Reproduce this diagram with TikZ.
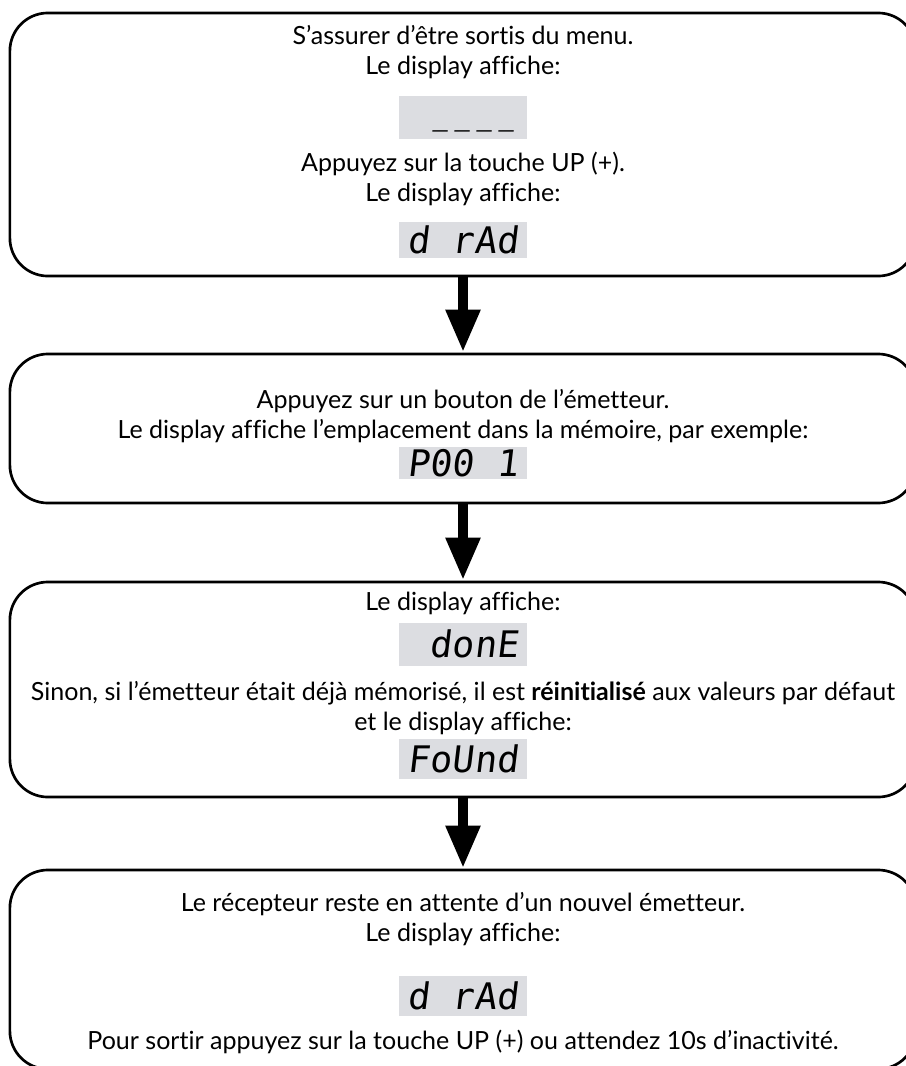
\documentclass[tikz,border=0pt]{standalone}
\usepackage{fontspec}
\setmainfont{Lato}[Ligatures=NoCommon]
\newfontfamily\segfont{DejaVu Sans Mono}[FakeSlant=0.12]
\usetikzlibrary{arrows.meta}
\definecolor{dispgray}{RGB}{220,221,225}
\newcommand{\dashseg}{\makebox[0.602em]{\scalebox{0.7}[1]{\_}}}

\begin{document}
\begin{tikzpicture}[x=0.025cm, y=-0.025cm,
  stepbox/.style={draw, line width=1.9pt, rounded corners=0.95cm, minimum width=22.65cm, inner sep=0},
  txt/.style={font=\fontsize{17.8}{21}\selectfont, inner sep=0, text height=12.5pt, text depth=3pt},
  disp/.style={fill=dispgray, minimum width=3.2cm, inner sep=0, font=\segfont\fontsize{26}{26}\selectfont, text height=19pt, text depth=0pt},
  flow/.style={line width=7.8pt, -{Triangle[length=30.6pt,width=22.8pt]}}]
\useasboundingbox (0,0) rectangle (906,1066);
% boxes
\node[stepbox, minimum height=6.575cm] (s1) at (463,144.5) {};
\node[stepbox, minimum height=3.725cm] (s2) at (463,428.5) {};
\node[stepbox, minimum height=5.375cm] (s3) at (463,689.5) {};
\node[stepbox, minimum height=4.975cm] (s4) at (463,969.5) {};
% box 1
\node[txt] (s1a) at (463,38) {S’assurer d’être sortis du menu.};
\node[txt] (s1b) at (463,68) {Le display affiche:};
\node[disp, minimum height=1.075cm] (d1a) at (463,117.5) {\phantom{0}\raisebox{5pt}{\dashseg\dashseg\dashseg\dashseg}};
\node[txt] (s1c) at (463,165) {Appuyez sur la touche UP (+).};
\node[txt] (s1d) at (463,195) {Le display affiche:};
\node[disp, minimum height=0.9cm] (d1b) at (463,240) {d rAd};
% box 2
\node[txt] (s2a) at (463,402) {Appuyez sur un bouton de l’émetteur.};
\node[txt] (s2b) at (463,432) {Le display affiche l’emplacement dans la mémoire, par exemple:};
\node[disp, minimum height=0.8cm] (d2) at (463,463) {P00 1};
% box 3
\node[txt] (s3a) at (463,604) {Le display affiche:};
\node[disp, minimum height=1.075cm] (d3a) at (463,644.5) {\phantom{0}donE};
\node[txt] (s3b) at (463,694) {Sinon, si l’émetteur était déjà mémorisé, il est \textbf{réinitialisé} aux valeurs par défaut};
\node[txt] (s3c) at (463,724) {et le display affiche:};
\node[disp, minimum height=1cm] (d3b) at (463,759) {FoUnd};
% box 4
\node[txt] (s4a) at (463,905) {Le récepteur reste en attente d’un nouvel émetteur.};
\node[txt] (s4b) at (463,935) {Le display affiche:};
\node[disp, minimum height=1cm] (d4) at (463,996) {d rAd};
\node[txt] (s4c) at (463,1043) {Pour sortir appuyez sur la touche UP (+) ou attendez 10s d’inactivité.};
% arrows
\draw[flow] (s1.south) -- (s2.north);
\draw[flow] (s2.south) -- (s3.north);
\draw[flow] (s3.south) -- (s4.north);
\end{tikzpicture}
\end{document}
